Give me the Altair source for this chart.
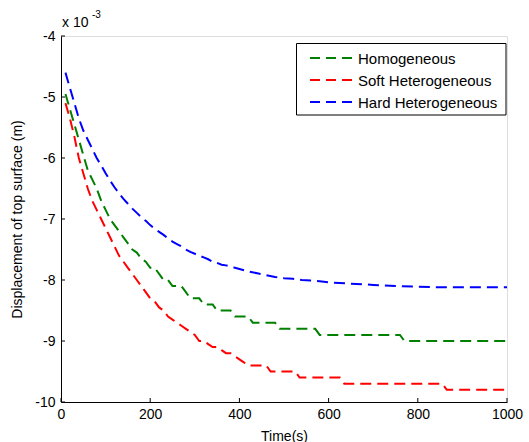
import altair as alt
import pandas as pd

# ---- data (displacement in units of 1e-3 m) ----
series_names = ["Homogeneous", "Soft Heterogeneous", "Hard Heterogeneous"]
series_colors = ["#008000", "#FF0000", "#0000FF"]

time_homo = [10, 20, 30, 40, 50, 60, 70, 80, 90, 100, 110, 120, 130, 140, 150, 160, 170, 180, 190,
             200, 210, 220, 230, 240, 250, 260, 270, 280, 290, 300, 310, 320, 340, 350, 380, 390,
             420, 430, 480, 490, 570, 580, 760, 770, 1000]
disp_homo = [-4.95, -5.2, -5.45, -5.7, -5.95, -6.2, -6.35, -6.5, -6.7, -6.85, -7.0, -7.1, -7.2,
             -7.3, -7.4, -7.5, -7.55, -7.65, -7.7, -7.8, -7.8, -7.9, -8.0, -8.0, -8.1, -8.1, -8.1,
             -8.2, -8.3, -8.3, -8.3, -8.4, -8.4, -8.5, -8.5, -8.6, -8.6, -8.7, -8.7, -8.8, -8.8,
             -8.9, -8.9, -9.0, -9.0]

time_soft = [10, 20, 30, 40, 50, 60, 70, 80, 90, 100, 110, 120, 130, 140, 150, 160, 170, 180, 190,
             200, 210, 220, 230, 240, 250, 260, 270, 280, 290, 300, 310, 320, 330, 340, 350, 360,
             370, 380, 390, 400, 410, 420, 460, 470, 525, 535, 625, 635, 855, 865, 1000]
disp_soft = [-5.1, -5.35, -5.65, -6.0, -6.25, -6.5, -6.7, -6.85, -7.0, -7.15, -7.3, -7.45, -7.6,
             -7.7, -7.8, -7.9, -8.0, -8.1, -8.2, -8.3, -8.35, -8.45, -8.5, -8.6, -8.65, -8.7,
             -8.75, -8.8, -8.85, -8.9, -9.0, -9.0, -9.05, -9.1, -9.1, -9.15, -9.2, -9.2, -9.25,
             -9.3, -9.35, -9.4, -9.4, -9.5, -9.5, -9.6, -9.6, -9.7, -9.7, -9.8, -9.8]

time_hard = [10, 20, 30, 40, 50, 60, 70, 80, 90, 100, 110, 120, 130, 140, 150, 160, 170, 180, 190,
             200, 210, 220, 230, 240, 250, 260, 270, 280, 290, 300, 310, 320, 330, 340, 350, 360,
             370, 380, 390, 400, 420, 440, 460, 480, 500, 520, 540, 560, 580, 600, 650, 700, 750,
             800, 850, 1000]
disp_hard = [-4.6, -4.85, -5.1, -5.35, -5.55, -5.7, -5.85, -6.0, -6.12, -6.25, -6.37, -6.48, -6.58,
             -6.67, -6.75, -6.83, -6.9, -6.97, -7.03, -7.1, -7.16, -7.21, -7.26, -7.32, -7.37,
             -7.41, -7.45, -7.5, -7.54, -7.57, -7.6, -7.63, -7.66, -7.7, -7.72, -7.75, -7.76,
             -7.78, -7.8, -7.82, -7.86, -7.89, -7.92, -7.95, -7.97, -7.98, -8.0, -8.01, -8.02,
             -8.04, -8.06, -8.08, -8.1, -8.11, -8.12, -8.12]

x_ticks = [0, 200, 400, 600, 800, 1000]
y_ticks = [-4, -5, -6, -7, -8, -9, -10]

FONT = "Liberation Sans"
W, H = 446, 366

rows = []
for name, ts, vs in zip(series_names, [time_homo, time_soft, time_hard],
                        [disp_homo, disp_soft, disp_hard]):
    for i, (t, v) in enumerate(zip(ts, vs)):
        rows.append({"series": name, "t": t, "v": v, "order": i})
df = pd.DataFrame(rows)

xscale = alt.Scale(domain=[0, 1000], nice=False, zero=False)
yscale = alt.Scale(domain=[-10, -4], nice=False, zero=False)

common_axis = dict(grid=False, tickSize=0, labelExpr="datum.value + ''", labelFlush=False,
                   domainColor="black", labelColor="black", titleColor="black",
                   labelFont=FONT, titleFont=FONT, labelFontSize=14, titleFontSize=14,
                   titleFontWeight="normal")

lines = alt.Chart(df).mark_line(strokeWidth=2, strokeDash=[11, 6]).encode(
    x=alt.X("t:Q", scale=xscale,
            axis=alt.Axis(values=x_ticks, title="Time(s)", labelPadding=5, titlePadding=8,
                          **common_axis)),
    y=alt.Y("v:Q", scale=yscale,
            axis=alt.Axis(values=y_ticks, title="Displacement of top surface (m)",
                          labelPadding=6, titlePadding=10, **common_axis)),
    color=alt.Color("series:N", scale=alt.Scale(domain=series_names, range=series_colors),
                    legend=None),
    detail="series:N",
    order="order:Q",
)

ytick_df = pd.DataFrame({"v": y_ticks})
xtick_df = pd.DataFrame({"t": x_ticks})

yticks = alt.Chart(ytick_df).mark_rule(color="black").encode(
    y=alt.Y("v:Q", scale=yscale), x=alt.value(0), x2=alt.value(4))
xticks = alt.Chart(xtick_df).mark_rule(color="black").encode(
    x=alt.X("t:Q", scale=xscale), y=alt.value(H), y2=alt.value(H - 4))

exp_base = alt.Chart(pd.DataFrame({"s": ["x 10"]})).mark_text(
    font=FONT, fontSize=14, align="left", baseline="middle", color="black").encode(
    text="s:N", x=alt.value(1), y=alt.value(-13))
exp_sup = alt.Chart(pd.DataFrame({"s": ["-3"]})).mark_text(
    font=FONT, fontSize=10, align="left", baseline="middle", color="black").encode(
    text="s:N", x=alt.value(31), y=alt.value(-21))

# ---- legend (drawn as a boxed key in the upper right) ----
box_df = pd.DataFrame({"k": [0]})
legend_box = alt.Chart(box_df).mark_rect(fill="white", stroke="black", strokeWidth=1).encode(
    x=alt.value(235.5), x2=alt.value(445), y=alt.value(7.5), y2=alt.value(79))

row_y = [22, 44, 66]
legend_layers = [legend_box]
for name, col, ry in zip(series_names, series_colors, row_y):
    one = pd.DataFrame({"series": [name]})
    legend_layers.append(
        alt.Chart(one).mark_rule(color=col, strokeWidth=2, strokeDash=[10, 6]).encode(
            x=alt.value(249), x2=alt.value(292), y=alt.value(ry)))
    legend_layers.append(
        alt.Chart(one).mark_text(font=FONT, fontSize=15, align="left", baseline="middle",
                                 color="black").encode(
            text="series:N", x=alt.value(297), y=alt.value(ry + 1)))

chart = alt.layer(lines, yticks, xticks, exp_base, exp_sup, *legend_layers).properties(
    width=W, height=H,
    autosize=alt.AutoSizeParams(type="none"),
    padding={"left": 61, "top": 36, "right": 22, "bottom": 40},
).configure_view(stroke=None).configure(background="white")

chart.save("out.html", embed_options={"renderer": "svg", "actions": False})
